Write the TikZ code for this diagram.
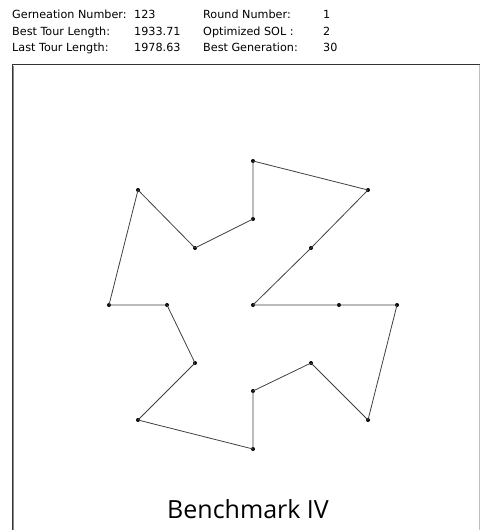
\documentclass[tikz,border=0pt]{standalone}
\usepackage{fontspec}
\setmainfont{DejaVu Sans}
\newfontfamily\titlefont{Open Sans}
\usetikzlibrary{positioning}

\begin{document}
\begin{tikzpicture}[
  x=1pt,y=-1pt,
  city/.style={circle,fill=black,inner sep=0pt,minimum size=4pt},
  tour/.style={black!75,line width=.8pt},
  info/.style={anchor=base west,inner sep=0pt,font=\fontsize{11.2}{13}\selectfont}
]
  \useasboundingbox (0,0) rectangle (480,530);

  % header lines
  \node[info] (gen) at (12,19) {Gerneation Number:};
  \node[info] (genv) at (134,19) {123};
  \node[info] (best) at (12,35) {Best Tour Length:};
  \node[info] (bestv) at (134,35) {1933.71};
  \node[info] (last) at (12,51) {Last Tour Length:};
  \node[info] (lastv) at (134,51) {1978.63};
  \node[info] (round) at (203,19) {Round Number:};
  \node[info] (roundv) at (323,19) {1};
  \node[info] (opt) at (203,35) {Optimized SOL :};
  \node[info] (optv) at (323,35) {2};
  \node[info] (bgen) at (203,51) {Best Generation:};
  \node[info] (bgenv) at (323,51) {30};

  % panel border
  \coordinate (bl) at (12.5,530);
  \coordinate (tl) at (12.5,64.5);
  \coordinate (tr) at (479.5,64.5);
  \coordinate (br) at (479.5,530);
  \draw[black!80,line width=1pt] (bl) -- (tl) -- (tr);
  \draw[black!25,line width=1pt] (tr) -- (br);
  \draw[black!45,line width=1pt] (13.7,530) -- (13.7,65.7);

  % cities
  \foreach \n/\x/\y in {1/253/305,2/311/248,3/368/190,4/253/161,5/253/219,
    6/195/248,7/138/190,8/109/305,9/167/305,10/195/363,11/138/420,
    12/253/449,13/253/391,14/311/363,15/368/420,16/397/305,17/339/305}
    \node[city] (c\n) at (\x,\y) {};

  % tour
  \draw[tour] (c1.center) -- (c2.center) -- (c3.center) -- (c4.center)
    -- (c5.center) -- (c6.center) -- (c7.center) -- (c8.center)
    -- (c9.center) -- (c10.center) -- (c11.center) -- (c12.center)
    -- (c13.center) -- (c14.center) -- (c15.center) -- (c16.center)
    -- (c17.center) -- cycle;

  \node[anchor=base,inner sep=0pt,font=\titlefont\fontsize{25}{30}\selectfont]
    (title) at (248,518) {Benchmark IV};
\end{tikzpicture}
\end{document}
